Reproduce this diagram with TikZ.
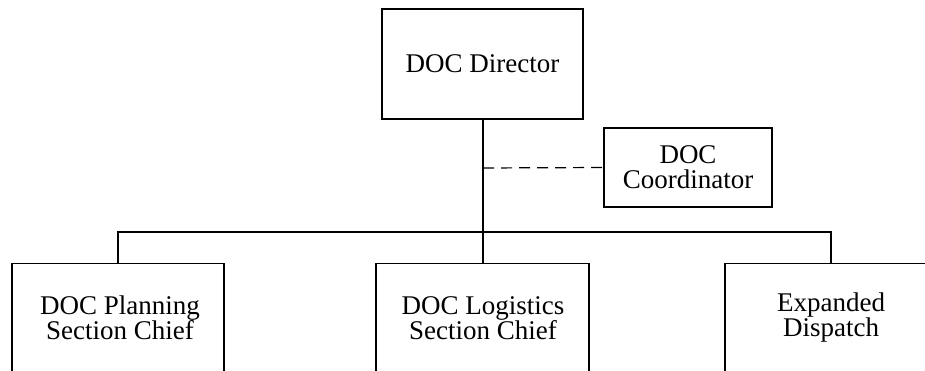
\documentclass[tikz,border=0pt]{standalone}
\usepackage{fontspec}
\setmainfont{Liberation Serif}
\begin{document}
\begin{tikzpicture}[x=1pt,y=-1pt,
  box/.style={draw,line width=1.1pt,inner sep=0pt},
  lbl/.style={align=center,font=\fontsize{27}{25}\selectfont},
  link/.style={line width=1.1pt},
  dashlink/.style={line width=1.2pt,dash pattern=on 11pt off 7pt}]
\useasboundingbox (0,0) rectangle (925,371);
\clip (0,0) rectangle (925,371);

% top level
\node[box,lbl,minimum width=201pt,minimum height=110pt,text height=18pt,text depth=0pt] (dir) at (482.5,64) {DOC Director};

% staff position
\node[box,lbl,minimum width=168pt,minimum height=79pt] (coord) at (688,167.5) {DOC\\Coordinator};

% section boxes (run past the lower edge)
\node[box,minimum width=212pt,minimum height=160pt,anchor=north] (plan) at (118,263) {};
\node[lbl] (plantxt) at (120,318) {DOC Planning\\Section Chief};
\node[box,minimum width=213pt,minimum height=160pt,anchor=north] (logi) at (482.5,263) {};
\node[lbl] (logitxt) at (483,318) {DOC Logistics\\Section Chief};
\node[box,minimum width=212pt,minimum height=160pt,anchor=north] (disp) at (831,263) {};
\node[lbl] (disptxt) at (831,318) {Expanded\\Dispatch};

% connectors
\coordinate (bus) at (483,232);
\coordinate (staff) at (483,168);
\draw[link] (dir.south -| bus) -- (logi.north -| bus);
\draw[link] (plan.north) -- (plan.north |- bus) -- (disp.north |- bus) -- (disp.north);
\draw[dashlink] (staff) -- (coord.west);
\end{tikzpicture}
\end{document}
